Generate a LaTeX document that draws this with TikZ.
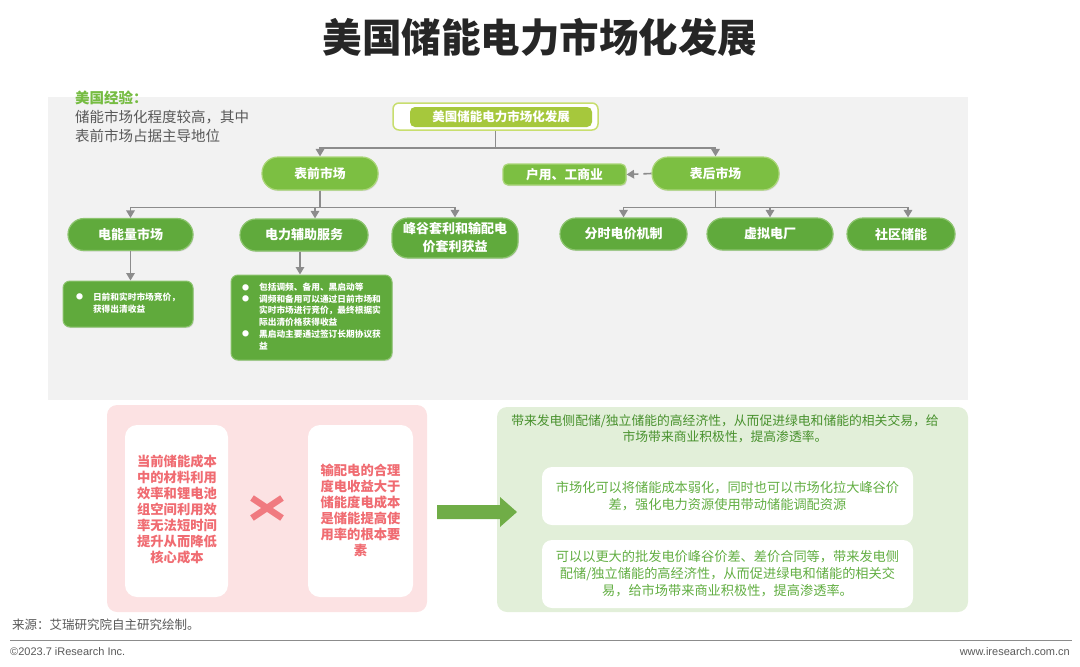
\documentclass[tikz,border=0pt]{standalone}
\usepackage{fontspec}
\setmainfont{Noto Sans CJK SC}
\newfontfamily\latinf{Liberation Sans}
\usetikzlibrary{arrows.meta,shadows}
\definecolor{titlec}{RGB}{38,38,38}
\definecolor{bggray}{RGB}{242,242,242}
\definecolor{txtgray}{RGB}{89,89,89}
\definecolor{greenhead}{RGB}{118,188,66}
\definecolor{gone}{RGB}{124,191,66}
\definecolor{goneedge}{RGB}{170,214,120}
\definecolor{gtwo}{RGB}{96,170,60}
\definecolor{gtwoedge}{RGB}{140,196,110}
\definecolor{gtop}{RGB}{166,200,60}
\definecolor{gtopedge}{RGB}{200,222,110}
\definecolor{arrowgray}{RGB}{140,140,140}
\definecolor{pinkbg}{RGB}{252,226,227}
\definecolor{pinktxt}{RGB}{240,108,114}
\definecolor{pinkx}{RGB}{240,122,128}
\definecolor{greenbg}{RGB}{226,239,217}
\definecolor{greenttl}{RGB}{72,145,45}
\definecolor{greentxt}{RGB}{98,174,66}
\definecolor{bigarrow}{RGB}{112,173,71}
\newcommand{\bdot}{\raisebox{0.5pt}{\fontsize{7}{7}\selectfont ●}}
\tikzset{
  conn/.style={draw=arrowgray, line width=1.6pt, -{Triangle[width=8.5pt,length=7.5pt]}},
  lvlone/.style={rectangle, rounded corners=16pt, fill=gone, draw=goneedge, line width=1.2pt,
    text=white, font=\fontsize{12.8}{15}\selectfont\bfseries, inner sep=0pt, align=center,
    drop shadow={shadow xshift=0.8pt, shadow yshift=-1.2pt, opacity=0.2}},
  lvltwo/.style={rectangle, rounded corners=16pt, fill=gtwo, draw=gtwoedge, line width=1.2pt,
    text=white, font=\fontsize{13}{15.5}\selectfont\bfseries, inner sep=0pt, align=center,
    drop shadow={shadow xshift=0.8pt, shadow yshift=-1.2pt, opacity=0.2}},
  descbox/.style={rectangle, rounded corners=7pt, fill=gtwo, draw=gtwoedge, line width=1pt,
    text=white, font=\fontsize{8.7}{11.7}\selectfont\bfseries, inner sep=0pt,
    drop shadow={shadow xshift=0.8pt, shadow yshift=-1.2pt, opacity=0.2}},
  whitebox/.style={rectangle, rounded corners=12pt, fill=white, inner sep=0pt, align=center},
  pinktext/.style={text=pinktxt, font=\fontsize{13.3}{16}\selectfont\bfseries, align=center},
  greenbox/.style={rectangle, rounded corners=10pt, fill=white, inner sep=0pt, align=center,
    text=greentxt, font=\fontsize{13.2}{17}\selectfont},
}
\begin{document}
\begin{tikzpicture}[x=1pt,y=-1pt]
\useasboundingbox (0,0) rectangle (1080,667);
% title
\node[text=titlec, font=\fontsize{39.5}{44}\selectfont\bfseries] (title) at (540,37) {美国储能电力市场化发展};
% gray background
\fill[bggray] (48,97) rectangle (968,400);
% left note
\node[anchor=north west, inner sep=0pt, align=left, text=txtgray, font=\fontsize{14.5}{19}\selectfont] (note) at (75,91)
  {{\color{greenhead}\bfseries 美国经验：}\\储能市场化程度较高，其中\\表前市场占据主导地位};
% top node
\node[rectangle, rounded corners=6pt, fill=white, draw=gtopedge, line width=1.5pt,
  minimum width=205pt, minimum height=27pt, inner sep=0pt] (topo) at (495.5,116.5) {};
\node[rectangle, rounded corners=5pt, fill=gtop, minimum width=182pt, minimum height=20pt,
  inner sep=0pt, text=white, font=\fontsize{12.5}{15}\selectfont\bfseries] (top) at (501,117) {美国储能电力市场化发展};
% level one
\node[lvlone, minimum width=116pt, minimum height=33pt] (qian) at (320,173.5) {表前市场};
\node[lvlone, minimum width=127pt, minimum height=33pt] (hou) at (715.5,173.5) {表后市场};
\node[lvlone, rounded corners=5pt, minimum width=123pt, minimum height=21pt] (huyong) at (564.5,174.5) {户用、工商业};
% level two
\node[lvltwo, minimum width=125pt, minimum height=32pt] (dnl) at (130.5,234.5) {电能量市场};
\node[lvltwo, minimum width=128pt, minimum height=32pt] (fuzhu) at (304,235) {电力辅助服务};
\node[lvltwo, minimum width=126pt, minimum height=40pt, font=\fontsize{13}{18}\selectfont\bfseries] (fenggu) at (455,238) {峰谷套利和输配电\\价套利获益};
\node[lvltwo, minimum width=127pt, minimum height=32pt] (fenshi) at (623.5,234) {分时电价机制};
\node[lvltwo, minimum width=126pt, minimum height=32pt] (xuni) at (770,234) {虚拟电厂};
\node[lvltwo, minimum width=108pt, minimum height=32pt] (shequ) at (901,234) {社区储能};
% descriptions
\node[descbox, minimum width=130pt, minimum height=46pt] (desca) at (128,304)
  {\begin{tabular}{@{}l@{\hspace{10pt}}l@{}}\bdot & 日前和实时市场竞价，\\ & 获得出清收益\end{tabular}};
\node[descbox, minimum width=161pt, minimum height=85pt] (descb) at (311.5,317.5)
  {\begin{tabular}{@{}l@{\hspace{10pt}}l@{}}
  \bdot & 包括调频、备用、黑启动等\\
  \bdot & 调频和备用可以通过日前市场和\\
   & 实时市场进行竞价，最终根据实\\
   & 际出清价格获得收益\\
  \bdot & 黑启动主要通过签订长期协议获\\
   & 益\end{tabular}};
% connectors
\draw[conn] (topo.south) -- ++(0,17) -| (qian.north);
\draw[conn] (topo.south) -- ++(0,17) -| (hou.north);
\draw[conn] (qian.south) -- ++(0,17) -| (dnl.north);
\draw[conn] (qian.south) -- ++(0,17) -| ([xshift=-5pt]qian.south |- fuzhu.north);
\draw[conn] (qian.south) -- ++(0,17) -| (fenggu.north);
\draw[conn] (hou.south) -- ++(0,17) -| (fenshi.north);
\draw[conn] (hou.south) -- ++(0,17) -| (xuni.north);
\draw[conn] (hou.south) -- ++(0,17) -| ([xshift=7pt]shequ.north);
\draw[conn] (dnl.south) -- (dnl.south |- desca.north);
\draw[conn] ([xshift=-4pt]fuzhu.south) -- ([xshift=-4pt]fuzhu.south |- descb.north);
\draw[conn, dash pattern=on 8pt off 5pt] (hou.west) -- (huyong.east);
% pink panel
\node[rectangle, rounded corners=10pt, fill=pinkbg, minimum width=320pt, minimum height=207pt, inner sep=0pt] (pink) at (267,508.5) {};
\node[whitebox, minimum width=103pt, minimum height=172pt] (pa) at (176.5,511) {};
\node[pinktext] (pat) at (177,509) {当前储能成本\\中的材料利用\\效率和锂电池\\组空间利用效\\率无法短时间\\提升从而降低\\核心成本};
\node[whitebox, minimum width=105pt, minimum height=172pt] (pb) at (360.5,511) {};
\node[pinktext] (pbt) at (360.5,510) {输配电的合理\\度电收益大于\\储能度电成本\\是储能提高使\\用率的根本要\\素};
\coordinate (xc) at (267,508);
\draw[pinkx, line width=6.5pt] ([shift={(-15,-10)}]xc) -- ([shift={(15,10)}]xc);
\draw[pinkx, line width=6.5pt] ([shift={(-15,10)}]xc) -- ([shift={(15,-10)}]xc);
% green panel
\node[rectangle, rounded corners=10pt, fill=greenbg, minimum width=471pt, minimum height=205pt, inner sep=0pt] (gp) at (732.5,509.5) {};
\node[text=greenttl, font=\fontsize{12.8}{16}\selectfont, align=center] (gpt) at (725,429)
  {带来发电侧配储/独立储能的高经济性，从而促进绿电和储能的相关交易，给\\市场带来商业积极性，提高渗透率。};
\node[greenbox, minimum width=371pt, minimum height=58pt] (ga) at (727.5,496)
  {市场化可以将储能成本弱化，同时也可以市场化拉大峰谷价\\差，强化电力资源使用带动储能调配资源};
\node[greenbox, minimum width=371pt, minimum height=68pt] (gb) at (727.5,574)
  {可以以更大的批发电价峰谷价差、差价合同等，带来发电侧\\配储/独立储能的高经济性，从而促进绿电和储能的相关交\\易，给市场带来商业积极性，提高渗透率。};
% big arrow
\fill[bigarrow] (437,505) -- (500,505) -- (500,497) -- (517,512) -- (500,527) -- (500,519) -- (437,519) -- cycle;
% footer
\node[anchor=west, inner sep=0pt, text=txtgray, font=\fontsize{12.5}{14}\selectfont] (src) at (12,625) {来源：艾瑞研究院自主研究绘制。};
\draw[arrowgray, line width=0.8pt] (10,640) -- (1072,640);
\node[anchor=west, inner sep=0pt, text=txtgray, font=\latinf\fontsize{11}{13}\selectfont] (copy) at (10,652) {©2023.7 iResearch Inc.};
\node[anchor=east, inner sep=0pt, text=txtgray, font=\latinf\fontsize{11}{13}\selectfont] (web) at (1070,652) {www.iresearch.com.cn};
\end{tikzpicture}
\end{document}
